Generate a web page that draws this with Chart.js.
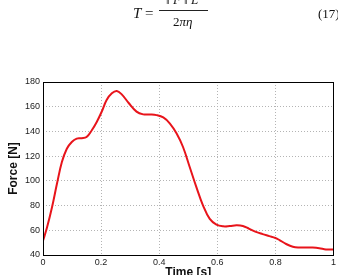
<!DOCTYPE html>
<html><head><meta charset="utf-8">
<script src="https://cdn.jsdelivr.net/npm/chart.js@4/dist/chart.umd.min.js"></script>
<style>
html,body{margin:0;padding:0;background:#fff;width:338px;height:275px;overflow:hidden;}
#wrap{position:absolute;left:0;top:0;width:338px;height:275px;}
.eq{position:absolute;font-family:"Liberation Serif","DejaVu Serif",serif;color:#111;white-space:nowrap;line-height:1;}
</style></head><body>
<div id="wrap"><canvas id="c" width="338" height="275"></canvas></div>
<div class="eq" style="left:133px;top:6px;font-size:15px;"><i>T</i> =</div>
<div class="eq" style="left:166px;top:-7px;font-size:13px;">‖ <i>F</i> ‖ <i>L</i></div>
<div style="position:absolute;left:159px;top:10px;width:49px;height:1px;background:#222;"></div>
<div class="eq" style="left:173px;top:15px;font-size:13px;">2<i>πη</i></div>
<div class="eq" style="left:318px;top:7px;font-size:13px;">(17)</div>
<script>
const timeValues = [0,0.014,0.031,0.048,0.065,0.082,0.099,0.116,0.133,0.15,0.168,0.185,0.202,0.219,0.237,0.254,0.271,0.295,0.322,0.345,0.368,0.391,0.414,0.437,0.46,0.482,0.505,0.528,0.551,0.574,0.597,0.62,0.643,0.666,0.688,0.71,0.733,0.756,0.779,0.8,0.814,0.837,0.86,0.883,0.906,0.928,0.951,0.974,1.0];
const forceValues = [51.5,62.4,78.6,97.6,115.2,126,131.5,134.2,134.5,135.5,141,147.7,155.9,165.4,170.8,172.7,170,163,156,153.8,153.7,153.2,151.3,146.4,138.3,127.4,111.2,94.9,80,69.2,64.6,63.2,63.4,64,63.5,61.2,58.7,56.9,55.3,53.8,52.1,48.9,46.7,46.1,46.1,46,45.5,44.5,44.4];
const xTicks = [0,0.2,0.4,0.6,0.8,1];
const yTicks = [40,60,80,100,120,140,160,180];

const boxPlugin = {
  id:'box',
  afterDraw(chart){
    const {ctx, chartArea:a} = chart;
    ctx.save();
    ctx.strokeStyle='#000';ctx.lineWidth=1;
    ctx.strokeRect(Math.round(a.left)+0.5,Math.round(a.top)+0.5,Math.round(a.right-a.left),Math.round(a.bottom-a.top));
    ctx.restore();
  }
};

new Chart(document.getElementById('c'),{
  type:'line',
  data:{datasets:[{data:timeValues.map((t,i)=>({x:t,y:forceValues[i]})),borderColor:'#e8141b',borderWidth:2,pointRadius:0,tension:0.4,fill:false}]},
  options:{
    responsive:false,animation:false,
    layout:{padding:{top:82,right:4,left:0,bottom:0}},
    plugins:{legend:{display:false},tooltip:{enabled:false}},
    scales:{
      x:{type:'linear',min:0,max:1,
        afterBuildTicks(s){s.ticks=xTicks.map(v=>({value:v}));},
        afterFit(s){s.height=20;},
        grid:{color:'#b4b4b4',tickLength:0,drawTicks:false},
        border:{display:false,dash:[1,2]},
        ticks:{color:'#222',font:{family:'Liberation Sans, Arial',size:9},padding:2,maxRotation:0,callback:v=>String(v)},
        title:{display:true,text:'Time [s]',color:'#111',font:{family:'Liberation Sans, Arial',size:12,weight:'bold'},padding:{top:0,bottom:-5}}
      },
      y:{min:40,max:180,
        afterBuildTicks(s){s.ticks=yTicks.map(v=>({value:v}));},
        afterFit(s){s.width=43;},
        grid:{color:'#b4b4b4',tickLength:0,drawTicks:false},
        border:{display:false,dash:[1,2]},
        ticks:{color:'#222',font:{family:'Liberation Sans, Arial',size:9},padding:3},
        title:{display:true,text:'Force [N]',color:'#111',font:{family:'Liberation Sans, Arial',size:12,weight:'bold'},padding:{top:6,bottom:0}}
      }
    }
  },
  plugins:[boxPlugin]
});
</script>
</body></html>
